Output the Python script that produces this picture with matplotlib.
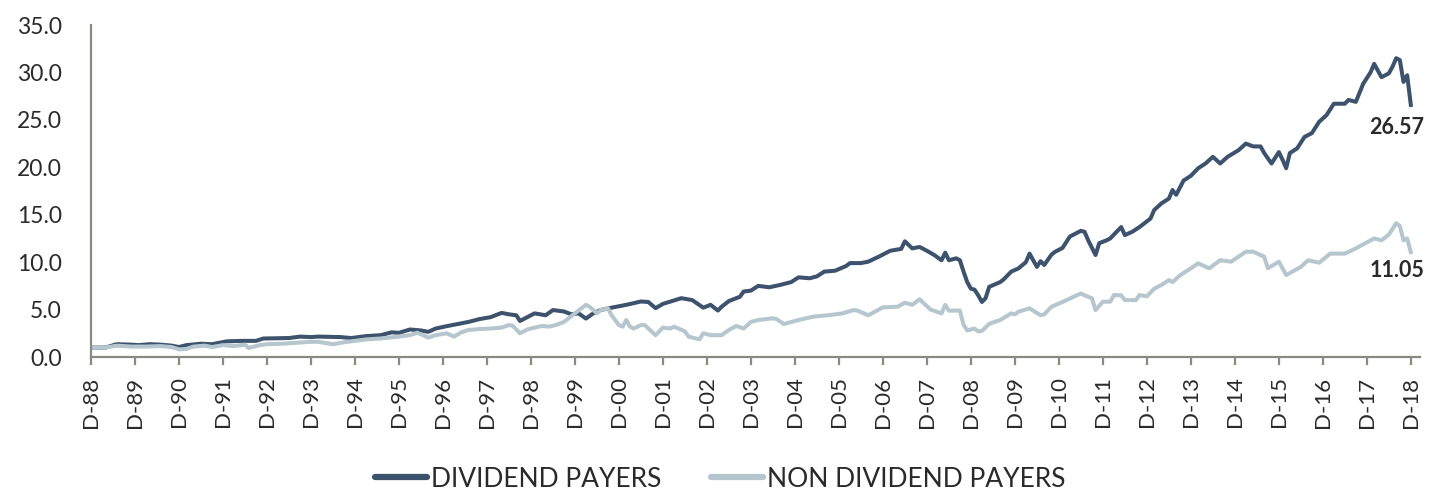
import matplotlib
matplotlib.use("Agg")
import matplotlib.pyplot as plt

# ---- data (month index since Dec-1988, value of $1 invested) ----
div_months = [0,4,7,11,13,16,19,22,24,26,30,33,37,41,45,47,54,57,60,62,68,71,75,79,82,84,87,90,92,94,97,101,103,106,109,112,114,116,117,120,
              121,124,126,129,131,133,135,137,139,142,146,150,152,154,156,161,164,167,169,171,172,174,177,178,180,182,185,188,191,193,196,198,
              200,203,206,207,210,212,215,218,221,222,224,226,228,230,232,233,234,236,237,238,239,240,241,242,243,244,245,248,249,251,253,255,
              256,258,259,260,262,263,265,267,270,271,272,274,275,277,278,281,282,284,286,289,290,292,294,295,296,298,300,302,304,306,308,310,
              313,315,317,319,320,322,324,325,326,327,329,331,333,335,337,339,342,343,345,347,349,350,352,354,355,356,357,358,359,360]
div_values = [1.0,1.0,1.35,1.3,1.25,1.35,1.3,1.2,1.05,1.25,1.4,1.35,1.65,1.7,1.7,1.95,2.0,2.15,2.1,2.15,2.1,2.0,2.2,2.3,2.6,2.55,2.9,2.8,2.65,3.0,3.25,3.55,3.7,4.0,4.2,4.65,4.5,4.4,3.8,4.4,
              4.6,4.4,4.95,4.8,4.5,4.6,4.05,4.6,4.95,5.2,5.5,5.85,5.8,5.15,5.6,6.2,6.0,5.2,5.5,4.9,5.3,5.9,6.35,6.9,7.0,7.5,7.35,7.6,7.9,8.4,8.3,8.5,
              9.0,9.1,9.6,9.9,9.9,10.05,10.6,11.2,11.4,12.2,11.45,11.6,11.2,10.75,10.2,11.0,10.2,10.4,10.2,9.0,7.9,7.2,7.1,6.5,5.8,6.2,7.4,7.9,8.2,9.0,9.35,10.0,
              10.9,9.5,10.1,9.7,10.8,11.1,11.5,12.7,13.3,13.2,12.3,10.75,12.0,12.3,12.5,13.7,12.85,13.2,13.7,14.6,15.5,16.2,16.7,17.6,17.1,18.6,19.1,19.9,20.4,21.1,20.4,21.1,
              21.8,22.5,22.2,22.2,21.5,20.4,21.6,20.8,19.9,21.5,22.0,23.2,23.6,24.8,25.5,26.7,26.7,27.1,26.9,28.8,30.0,30.9,29.5,29.9,30.6,31.5,31.3,29.0,29.7,26.57]

non_months = [0,4,7,11,15,19,22,24,26,28,31,33,36,39,42,43,46,48,52,56,60,62,66,69,75,79,84,87,89,92,94,97,99,101,103,106,109,112,114,115,117,119,
              121,123,125,127,129,132,135,136,138,139,141,142,144,145,146,147,148,150,151,154,156,158,159,162,163,166,167,169,172,174,176,178,180,
              182,186,187,189,193,197,201,205,208,209,212,216,220,222,224,226,229,232,233,234,237,238,239,241,242,243,245,248,251,252,253,256,259,
              260,262,265,268,270,271,273,274,276,278,279,281,282,285,286,288,290,292,294,295,297,300,302,305,308,311,315,317,320,321,324,326,330,
              332,335,338,342,345,350,352,354,355,356,357,358,359,360]
non_values = [1.0,1.0,1.2,1.1,1.1,1.15,1.05,0.8,0.85,1.1,1.2,1.05,1.25,1.15,1.3,0.95,1.25,1.35,1.4,1.5,1.6,1.6,1.35,1.55,1.85,1.95,2.15,2.3,2.56,2.05,2.3,2.5,2.15,2.6,2.85,2.95,3.0,3.1,3.37,3.3,2.5,2.9,
              3.1,3.27,3.2,3.4,3.7,4.6,5.5,5.3,4.6,4.95,5.13,4.4,3.37,3.2,3.9,3.2,3.0,3.37,3.37,2.3,3.1,3.0,3.2,2.7,2.15,1.86,2.5,2.3,2.3,2.85,3.27,3.0,3.7,
              3.9,4.08,4.0,3.48,3.9,4.25,4.4,4.6,4.95,4.9,4.4,5.23,5.3,5.72,5.5,6.08,5.0,4.6,5.5,4.88,4.9,3.4,2.8,3.0,2.7,2.75,3.5,3.9,4.6,4.5,4.78,5.13,4.4,
              4.5,5.3,5.8,6.35,6.7,6.5,6.2,4.95,5.83,5.83,6.53,6.5,6.0,6.0,6.53,6.4,7.2,7.6,8.1,7.9,8.6,9.35,9.87,9.35,10.2,10.05,11.1,11.1,10.57,9.35,10.05,8.64,9.5,
              10.2,9.94,10.9,10.9,11.45,12.5,12.3,12.9,13.5,14.1,13.8,12.3,12.5,11.05]

tick_months = list(range(0, 361, 12))
tick_labels = ["D-%02d" % (y % 100) for y in range(1988, 2019)]
y_ticks = [0, 5, 10, 15, 20, 25, 30, 35]

series_names = ["DIVIDEND PAYERS", "NON DIVIDEND PAYERS"]
end_labels = ["26.57", "11.05"]

DARK = "#3c526d"
LIGHT = "#b5c6cf"
AXIS = "#8a8a82"
TEXT = "#2a2a2a"

plt.rcParams['font.family'] = ['Lato', 'DejaVu Sans']

fig = plt.figure(figsize=(14.35, 4.90), dpi=100)
ax = fig.add_axes([91/1435, 133/490, (1420-91)/1435, (357-25)/490])

ax.plot(div_months, div_values, color=DARK, lw=2.9, label=series_names[0], solid_joinstyle='round')
ax.plot(non_months, non_values, color=LIGHT, lw=2.9, label=series_names[1], solid_joinstyle='round')

ax.set_xlim(0, 362.5)
ax.set_ylim(0, 35)
ax.set_yticks(y_ticks)
ax.set_yticklabels(["%.1f" % v for v in y_ticks])
ax.set_xticks(tick_months)
ax.set_xticklabels(tick_labels, rotation=90)

for s in ["top", "right"]:
    ax.spines[s].set_visible(False)
for s in ["left", "bottom"]:
    ax.spines[s].set_color(AXIS)
    ax.spines[s].set_linewidth(1.6)

ax.tick_params(axis='y', length=0, pad=21, labelsize=16.5, labelcolor=TEXT)
ax.tick_params(axis='x', length=6, width=1.6, color=AXIS, pad=8, labelsize=16, labelcolor=TEXT)

ax.annotate(end_labels[0], xy=(div_months[-1], div_values[-1]), xytext=(-10, -16),
            textcoords='offset points', ha='center', va='center',
            fontsize=15.5, fontweight='bold', color=TEXT, annotation_clip=False)
ax.annotate(end_labels[1], xy=(non_months[-1], non_values[-1]), xytext=(-10, -13),
            textcoords='offset points', ha='center', va='center',
            fontsize=15.5, fontweight='bold', color=TEXT, annotation_clip=False)

fig.legend(loc='center', bbox_to_anchor=(0.502, 0.022), ncol=2, frameon=False,
           fontsize=19, handlelength=1.95, handletextpad=0.15, columnspacing=1.9,
           labelcolor=TEXT)
for line in fig.legends[0].get_lines():
    line.set_linewidth(4.5)
    line.set_solid_capstyle('round')

fig.savefig("out.png", dpi=100, facecolor="white")
